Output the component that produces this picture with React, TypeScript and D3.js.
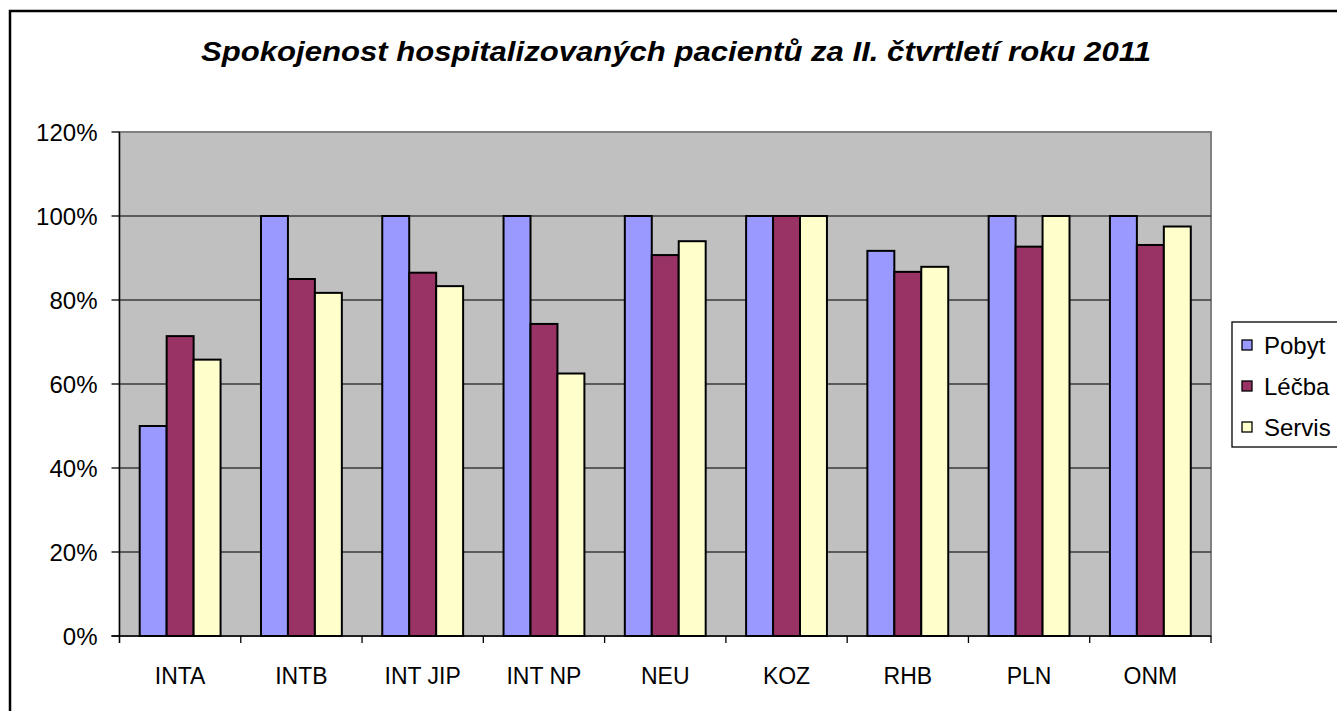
import React from 'react';
import * as d3 from 'd3';

// data
const categories = ['INTA', 'INTB', 'INT JIP', 'INT NP', 'NEU', 'KOZ', 'RHB', 'PLN', 'ONM'];
const seriesNames = ['Pobyt', 'Léčba', 'Servis'];
const pobyt = [0.50, 1.00, 1.00, 1.00, 1.00, 1.00, 0.917, 1.00, 1.00];
const lecba = [0.714, 0.85, 0.865, 0.743, 0.907, 1.00, 0.867, 0.927, 0.931];
const servis = [0.658, 0.817, 0.833, 0.625, 0.94, 1.00, 0.879, 1.00, 0.975];
const yTickValues = [0, 0.2, 0.4, 0.6, 0.8, 1.0, 1.2];
const colors = ['#9999FF', '#993366', '#FFFFCC'];
const title = 'Spokojenost hospitalizovaných pacientů za II. čtvrtletí roku 2011';

const App = () => {
  const width = 1337;
  const height = 711;
  const plot = { left: 119.5, right: 1211, top: 132, bottom: 636 };
  const font = 'Arial, "Liberation Sans", sans-serif';
  const fs = 23;

  const series = [pobyt, lecba, servis];

  // escalas
  const x = d3.scaleBand().domain(categories).range([plot.left, plot.right]).paddingInner(0).paddingOuter(0);
  const y = d3.scaleLinear().domain([0, 1.2]).range([plot.bottom, plot.top]);
  const barW = x.bandwidth() / 4.5; // gap width 150%
  const xInner = d3.scaleBand().domain(seriesNames).range([0, barW * 3]);

  const yTicks = yTickValues.map(t => (
    <g key={t} transform={`translate(0,${y(t)})`}>
      {t > 0 && t < 1.2 && <line x1={plot.left} x2={plot.right} stroke="#3a3a3a" strokeWidth={1.3} />}
      <line x1={plot.left - 8} x2={plot.left} stroke="#000" strokeWidth={1.3} />
      <text x={plot.left - 22} dy="0.36em" textAnchor="end" fontSize={24} fontFamily={font}>{`${Math.round(t * 100)}%`}</text>
    </g>
  ));

  const xTicks = d3.range(categories.length + 1).map(i => {
    const px = plot.left + i * x.bandwidth();
    return <line key={i} x1={px} x2={px} y1={plot.bottom} y2={plot.bottom + 7} stroke="#000" strokeWidth={1.3} />;
  });

  const bars = categories.map((c, ci) => (
    <g key={c} transform={`translate(${(x(c) as number) + barW * 0.75},0)`}>
      {series.map((s, si) => (
        <rect
          key={si}
          x={xInner(seriesNames[si])}
          y={y(s[ci])}
          width={xInner.bandwidth()}
          height={plot.bottom - y(s[ci])}
          fill={colors[si]}
          stroke="#000"
          strokeWidth={2}
        />
      ))}
    </g>
  ));

  return (
    <svg width={width} height={height} style={{ position: 'absolute', left: 0, top: 0, background: '#fff' }}>
      <rect x={10} y={11} width={1360} height={720} fill="#fff" stroke="#000" strokeWidth={2.5} />
      <text x={676} y={61} textAnchor="middle" fontSize={28} fontWeight="bold" fontStyle="italic" fontFamily={font}
        textLength={950} lengthAdjust="spacingAndGlyphs">{title}</text>

      <rect x={plot.left} y={plot.top} width={plot.right - plot.left} height={plot.bottom - plot.top} fill="#C0C0C0" stroke="#808080" strokeWidth={2} />
      {yTicks}
      {bars}
      <line x1={plot.left} x2={plot.left} y1={plot.top} y2={plot.bottom + 7} stroke="#000" strokeWidth={1.3} />
      <line x1={plot.left - 8} x2={plot.right} y1={plot.bottom} y2={plot.bottom} stroke="#000" strokeWidth={1.3} />
      {xTicks}
      {categories.map(c => (
        <text key={c} x={(x(c) as number) + x.bandwidth() / 2} y={684} textAnchor="middle" fontSize={fs} fontFamily={font}>{c}</text>
      ))}

      <g>
        <rect x={1232} y={322} width={130} height={125} fill="#fff" stroke="#000" strokeWidth={1.3} />
        {seriesNames.map((n, i) => (
          <g key={n} transform={`translate(1242,${345 + i * 41})`}>
            <rect x={0} y={-5} width={10} height={10} fill={colors[i]} stroke="#000" strokeWidth={1.3} />
            <text x={22} dy="0.36em" fontSize={fs + 1} fontFamily={font}>{n}</text>
          </g>
        ))}
      </g>
    </svg>
  );
};

export default App;
